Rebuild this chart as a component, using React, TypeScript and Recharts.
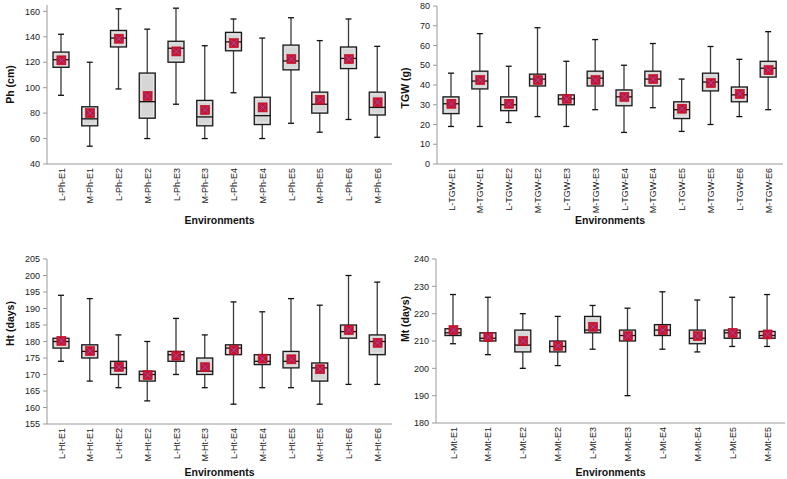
import React from 'react';
import { ComposedChart, Bar, Scatter, XAxis, YAxis } from 'recharts';

// Plant height
const phCats = ['L-Ph-E1', 'M-Ph-E1', 'L-Ph-E2', 'M-Ph-E2', 'L-Ph-E3', 'M-Ph-E3', 'L-Ph-E4', 'M-Ph-E4', 'L-Ph-E5', 'M-Ph-E5', 'L-Ph-E6', 'M-Ph-E6'];
const phMin = [94, 54, 99, 60, 87, 60, 96, 60, 72, 65, 75, 61];
const phQ1 = [116, 70, 132, 76, 120, 70, 129, 71, 114, 80, 115, 78.5];
const phMed = [122, 75.5, 139, 89, 131, 77, 136, 78, 121, 87, 123, 84.5];
const phQ3 = [128, 85, 145, 111.5, 136.5, 90, 143.5, 92.5, 133.5, 96.5, 132, 96.5];
const phMax = [142, 120, 162, 146, 162.5, 133, 154, 139, 155, 137, 154, 132.5];
const phMean = [121.5, 80, 138.5, 93.5, 128.5, 82.5, 135, 84.5, 122.5, 90.5, 122.5, 88.5];
const phTicks = [40, 60, 80, 100, 120, 140, 160];

// Thousand grain weight
const tgwCats = ['L-TGW-E1', 'M-TGW-E1', 'L-TGW-E2', 'M-TGW-E2', 'L-TGW-E3', 'M-TGW-E3', 'L-TGW-E4', 'M-TGW-E4', 'L-TGW-E5', 'M-TGW-E5', 'L-TGW-E6', 'M-TGW-E6'];
const tgwMin = [19, 19, 21, 24, 19, 27.5, 16, 28.5, 16.5, 20, 24, 27.5];
const tgwQ1 = [25.5, 38, 27, 39.5, 30, 39.5, 29.5, 39.5, 23, 37, 31.5, 44];
const tgwMed = [30.5, 42, 30, 43, 33, 43.5, 34, 43, 27.5, 41.5, 35, 48.5];
const tgwQ3 = [34, 47, 34, 45.5, 35, 47, 37.5, 47, 31.5, 46, 39, 52];
const tgwMax = [46, 66, 49.5, 69, 52, 63, 50, 61, 43, 59.5, 53, 67];
const tgwMean = [30.5, 42.5, 30.5, 42.5, 33, 42.5, 34, 43, 28, 41, 35.5, 47.5];
const tgwTicks = [0, 10, 20, 30, 40, 50, 60, 70, 80];

// Heading time
const htCats = ['L-Ht-E1', 'M-Ht-E1', 'L-Ht-E2', 'M-Ht-E2', 'L-Ht-E3', 'M-Ht-E3', 'L-Ht-E4', 'M-Ht-E4', 'L-Ht-E5', 'M-Ht-E5', 'L-Ht-E6', 'M-Ht-E6'];
const htMin = [174, 168, 166, 162, 170, 166, 161, 166, 166, 161, 167, 167];
const htQ1 = [178, 175, 170, 168, 174, 170, 176, 173, 172, 168, 181, 176];
const htMed = [180, 177, 172, 170, 176, 171, 178, 174, 174, 172, 183, 180];
const htQ3 = [181, 179, 174, 171, 177, 175, 179, 176, 177, 173.5, 185, 182];
const htMax = [194, 193, 182, 180, 187, 182, 192, 189, 193, 191, 200, 198];
const htMean = [180.2, 177.1, 172.3, 169.8, 175.7, 172.2, 177.4, 174.8, 174.6, 171.6, 183.5, 179.6];
const htTicks = [155, 160, 165, 170, 175, 180, 185, 190, 195, 200, 205];

// Maturity time
const mtCats = ['L-Mt-E1', 'M-Mt-E1', 'L-Mt-E2', 'M-Mt-E2', 'L-Mt-E3', 'M-Mt-E3', 'L-Mt-E4', 'M-Mt-E4', 'L-Mt-E5', 'M-Mt-E5'];
const mtMin = [209, 205, 200, 201, 207, 190, 207, 206, 208, 208];
const mtQ1 = [212, 210, 206, 206, 213, 210, 212, 209, 211, 211];
const mtMed = [213, 211, 208.5, 208, 214, 212, 214, 211, 213, 212];
const mtQ3 = [214.5, 213, 214, 210, 219, 214, 216, 214, 214, 213.5];
const mtMax = [227, 226, 220, 219, 223, 222, 228, 225, 226, 227];
const mtMean = [214, 211.5, 210, 208.2, 215.2, 211.8, 214, 211.8, 213, 212.4];
const mtTicks = [180, 190, 200, 210, 220, 230, 240];

type Row = { name: string; min: number; q1: number; med: number; q3: number; max: number; mean: number };

const build = (cats: string[], mn: number[], q1: number[], md: number[], q3: number[], mx: number[], mean: number[]): Row[] =>
  cats.map((name, i) => ({ name, min: mn[i], q1: q1[i], med: md[i], q3: q3[i], max: mx[i], mean: mean[i] }));

const FONT = "'Liberation Sans Narrow', 'Liberation Sans', Arial, sans-serif";

// draws whiskers, box and median; y positions come from the bar's [min, max] extent
const BoxShape = (props: any) => {
  const { x, y, width, height, payload } = props;
  if (payload == null) return null;
  const top = Math.min(y, y + height);
  const bottom = Math.max(y, y + height);
  const span = payload.max - payload.min || 1;
  const toY = (v: number) => bottom - ((v - payload.min) / span) * (bottom - top);
  const cx = x + width / 2;
  const yQ1 = toY(payload.q1);
  const yQ3 = toY(payload.q3);
  const yMed = toY(payload.med);
  const cap = 3;
  return (
    <g>
      <line x1={cx} x2={cx} y1={top} y2={yQ3} stroke="#3a3a3a" strokeWidth={1.3} />
      <line x1={cx} x2={cx} y1={yQ1} y2={bottom} stroke="#3a3a3a" strokeWidth={1.3} />
      <line x1={cx - cap} x2={cx + cap} y1={top} y2={top} stroke="#111" strokeWidth={1.3} />
      <line x1={cx - cap} x2={cx + cap} y1={bottom} y2={bottom} stroke="#111" strokeWidth={1.3} />
      <rect x={x} y={yQ3} width={width} height={yQ1 - yQ3} fill="#c9c9c9" stroke="#1a1a1a" strokeWidth={1.3} />
      <rect x={x + 1.8} y={yQ3 + 1.8} width={width - 3.6} height={Math.max(0, yQ1 - yQ3 - 3.6)} fill="#d6d6d6" stroke="#ececec" strokeWidth={0.8} />
      <line x1={x} x2={x + width} y1={yMed} y2={yMed} stroke="#111" strokeWidth={1.3} />
    </g>
  );
};

const MeanMark = (props: any) => {
  const { cx, cy } = props;
  if (cx == null || cy == null) return null;
  const s = 4.5;
  return (
    <g>
      <rect x={cx - s} y={cy - s} width={s * 2} height={s * 2} fill="#d0112b" stroke="#b80d25" strokeWidth={0.6} />
      <line x1={cx - 3} y1={cy - 3} x2={cx + 3} y2={cy + 3} stroke="#7a5cc8" strokeWidth={0.9} />
      <line x1={cx - 3} y1={cy + 3} x2={cx + 3} y2={cy - 3} stroke="#7a5cc8" strokeWidth={0.9} />
    </g>
  );
};

const CatTick = (props: any) => {
  const { x, y, payload } = props;
  return (
    <text x={x} y={y} transform={`rotate(-90, ${x}, ${y})`} dy="0.35em" textAnchor="end" fontSize={9} fill="#1a1a1a" fontFamily={FONT}>
      {payload.value}
    </text>
  );
};

const yTitle = (text: string, shift: number) => (p: any) => {
  const vb = p.viewBox || {};
  const cx = 10;
  const cy = vb.y + vb.height / 2 + shift;
  return (
    <text x={cx} y={cy} transform={`rotate(-90, ${cx}, ${cy})`} dy="0.35em" textAnchor="middle" fontSize={10.5} fontWeight="bold" fill="#111" fontFamily={FONT}>
      {text}
    </text>
  );
};

type PanelProps = {
  data: Row[];
  left: number;
  top: number;
  width: number;
  height: number;
  margin: { top: number; right: number; left: number; bottom: number };
  yWidth: number;
  xHeight: number;
  domain: [number, number];
  ticks: number[];
  yLabel: string;
  yLabelShift: number;
  xLabelOffset: number;
};

const Panel: React.FC<PanelProps> = ({ data, left, top, width, height, margin, yWidth, xHeight, domain, ticks, yLabel, yLabelShift, xLabelOffset }) => (
  <div style={{ position: 'absolute', left, top }}>
    <ComposedChart width={width} height={height} data={data} margin={margin}>
      <XAxis
        dataKey="name"
        interval={0}
        height={xHeight}
        tickLine={false}
        tickSize={0}
        tickMargin={4}
        tick={<CatTick />}
        stroke="#9a9a9a"
        label={{ value: 'Environments', position: 'insideBottom', offset: xLabelOffset, fontSize: 10.5, fontWeight: 'bold', fill: '#111', fontFamily: FONT }}
      />
      <YAxis
        width={yWidth}
        domain={domain}
        ticks={ticks}
        interval={0}
        allowDataOverflow
        tickSize={4}
        tickMargin={3}
        stroke="#9a9a9a"
        tick={{ fontSize: 9, fill: '#1a1a1a', fontFamily: FONT }}
        label={{ content: yTitle(yLabel, yLabelShift) }}
      />
      <Bar dataKey={(d: Row) => [d.min, d.max]} barSize={16} shape={<BoxShape />} isAnimationActive={false} />
      <Scatter dataKey="mean" shape={<MeanMark />} isAnimationActive={false} />
    </ComposedChart>
  </div>
);

const App: React.FC = () => (
  <div style={{ position: 'absolute', left: 0, top: 0, width: 787, height: 479, background: '#fff' }}>
    <Panel
      data={build(phCats, phMin, phQ1, phMed, phQ3, phMax, phMean)}
      left={0} top={0} width={395} height={235}
      margin={{ top: 5, right: 3, left: 0, bottom: 0 }}
      yWidth={47} xHeight={71}
      domain={[40, 165]} ticks={phTicks} yLabel="Ph (cm)" yLabelShift={0} xLabelOffset={11}
    />
    <Panel
      data={build(tgwCats, tgwMin, tgwQ1, tgwMed, tgwQ3, tgwMax, tgwMean)}
      left={395} top={0} width={392} height={235}
      margin={{ top: 6, right: 4, left: 0, bottom: 0 }}
      yWidth={42} xHeight={71}
      domain={[0, 80]} ticks={tgwTicks} yLabel="TGW (g)" yLabelShift={3} xLabelOffset={11}
    />
    <Panel
      data={build(htCats, htMin, htQ1, htMed, htQ3, htMax, htMean)}
      left={0} top={240} width={395} height={239}
      margin={{ top: 19, right: 3, left: 0, bottom: 0 }}
      yWidth={47} xHeight={55}
      domain={[155, 205]} ticks={htTicks} yLabel="Ht (days)" yLabelShift={-18} xLabelOffset={3}
    />
    <Panel
      data={build(mtCats, mtMin, mtQ1, mtMed, mtQ3, mtMax, mtMean)}
      left={395} top={240} width={392} height={239}
      margin={{ top: 19, right: 2, left: 0, bottom: 0 }}
      yWidth={41} xHeight={56}
      domain={[180, 240]} ticks={mtTicks} yLabel="Mt (days)" yLabelShift={-22} xLabelOffset={3}
    />
  </div>
);

export default App;
